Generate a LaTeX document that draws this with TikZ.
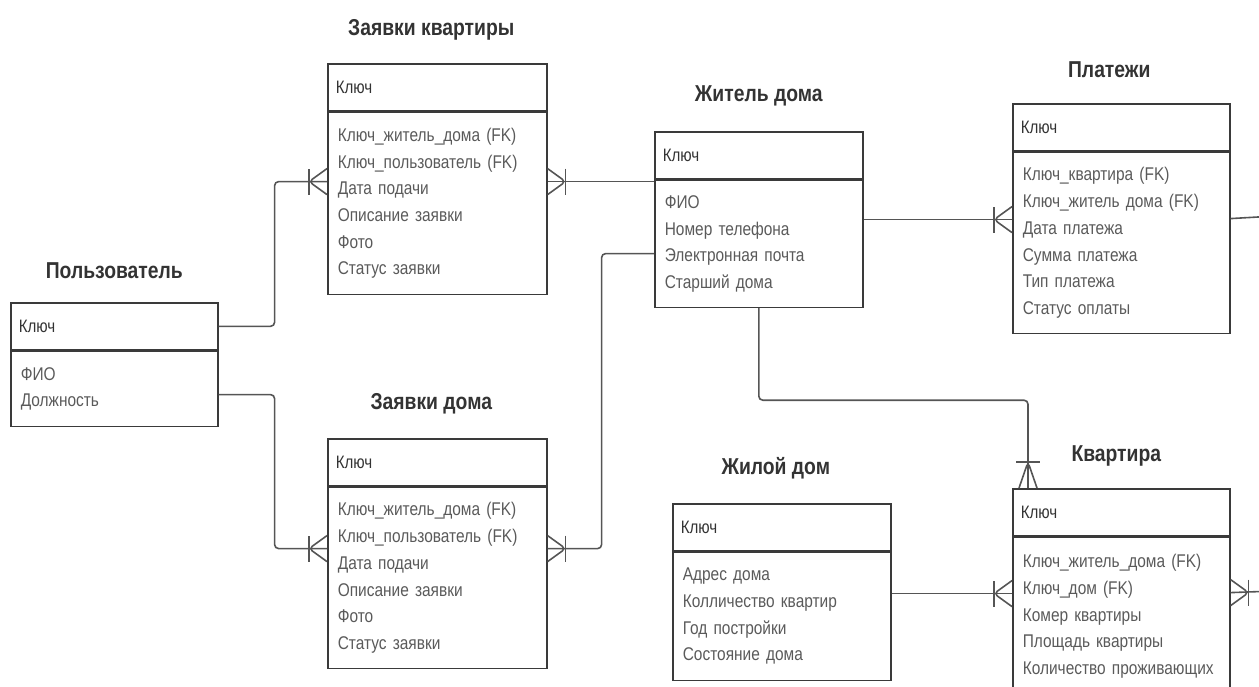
\documentclass[tikz,border=0pt]{standalone}
\usepackage{fontspec}
\setmainfont{Liberation Sans}[FakeStretch=0.84]
\usetikzlibrary{positioning}

\definecolor{boxcol}{HTML}{3A3A3A}
\definecolor{linkcol}{HTML}{555555}
\definecolor{titlecol}{HTML}{333333}
\definecolor{rowcol}{HTML}{5A5A5A}

\begin{document}
\begin{tikzpicture}[x=1pt, y=-1pt,
  title/.style={font=\fontsize{23}{26}\selectfont\bfseries, text=titlecol},
  head/.style={draw=boxcol, line width=1.6pt, anchor=north west, minimum height=47pt,
    inner xsep=8pt, align=left, font=\fontsize{18}{21}\selectfont, text=titlecol},
  body/.style={draw=boxcol, line width=1.6pt, anchor=north west,
    inner xsep=10pt, align=left, font=\fontsize{18.4}{26.7}\selectfont, text=rowcol},
  link/.style={draw=linkcol, line width=1.6pt, rounded corners=4pt},
  many/.pic={\draw [link] (0,-13) -- (18,0) -- (0,13); \draw [link] (18,-13) -- (18,13);},
  manyup/.pic={\draw [link] (0,-9) -- (26,0) -- (0,9); \draw [link] (26,-12) -- (26,12);}]

\useasboundingbox (0,0) rectangle (1259,687);
\clip (0,0) rectangle (1259,687);

\node [head, text width=191pt] (user) at (10,302) {Ключ};
\node [body, text width=187pt, minimum height=75pt] (user-b) at (user.south west) {ФИО\\Должность};
\node [title, above=20pt of user] {Пользователь};

\node [head, text width=203pt] (zk) at (327,63) {Ключ};
\node [body, text width=199pt, minimum height=182pt] (zk-b) at (zk.south west)
  {Ключ\_житель\_дома (FK)\\Ключ\_пользователь (FK)\\Дата подачи\\Описание заявки\\Фото\\Статус заявки};
\node [title, above=19pt of zk, xshift=-6pt] {Заявки квартиры};

\node [head, text width=203pt] (zd) at (327,438) {Ключ};
\node [body, text width=199pt, minimum height=181pt] (zd-b) at (zd.south west)
  {Ключ\_житель\_дома (FK)\\Ключ\_пользователь (FK)\\Дата подачи\\Описание заявки\\Фото\\Статус заявки};
\node [title, above=20pt of zd, xshift=-6pt] {Заявки дома};

\node [head, text width=192pt] (zh) at (654,131) {Ключ};
\node [body, text width=188pt, minimum height=127pt] (zh-b) at (zh.south west)
  {ФИО\\Номер телефона\\Электронная почта\\Старший дома};
\node [title, above=21pt of zh] {Житель дома};

\node [head, text width=201pt] (pl) at (1012,103) {Ключ};
\node [body, text width=197pt, minimum height=181pt] (pl-b) at (pl.south west)
  {Ключ\_квартира (FK)\\Ключ\_житель дома (FK)\\Дата платежа\\Сумма платежа\\Тип платежа\\Статус оплаты};
\node [title, above=22pt of pl, xshift=-12pt] {Платежи};

\node [head, text width=202pt] (zhd) at (672,503) {Ключ};
\node [body, text width=198pt, minimum height=128pt] (zhd-b) at (zhd.south west)
  {Адрес дома\\Колличество квартир\\Год постройки\\Состояние дома};
\node [title, above=20pt of zhd, xshift=-6pt] {Жилой дом};

\node [head, text width=201pt] (kv) at (1012,488) {Ключ};
\node [body, text width=197pt, minimum height=158pt] (kv-b) at (kv.south west)
  {Ключ\_житель\_дома (FK)\\Ключ\_дом (FK)\\Комер квартиры\\Площадь квартиры\\Количество проживающих};
\node [title, above=18pt of kv, xshift=-5pt] {Квартира};

\coordinate (user-o) at ([yshift=-44pt]user-b.north east);
\coordinate (zk-in) at ([yshift=-70pt]zk-b.north west);
\coordinate (zk-out) at ([yshift=-70pt]zk-b.north east);
\coordinate (zd-in) at ([yshift=-62pt]zd-b.north west);
\coordinate (zd-out) at ([yshift=-62pt]zd-b.north east);
\coordinate (zh-l) at ([yshift=-74pt]zh-b.north west);
\coordinate (zh-r) at ([yshift=-40pt]zh-b.north east);
\coordinate (pl-in) at (zh-r -| pl-b.west);
\coordinate (pl-r) at ([yshift=-67pt]pl-b.north east);
\coordinate (pl-end) at (1275,216);
\coordinate (kv-top) at ([xshift=16pt]kv.north west);
\coordinate (zhd-r) at ([yshift=-42pt]zhd-b.north east);
\coordinate (kv-in) at (zhd-r -| kv-b.west);
\coordinate (kv-out) at ([yshift=-56pt]kv-b.north east);
\coordinate (kv-end) at (1275,591);

\draw [link] (user.east) -- ++(56,0) |- (zk-in);
\draw [link] (user-o) -- ++(56,0) |- (zd-in);
\draw [link] (zk-out) -- (zk-out -| zh-b.west);
\draw [link] (zd-out) -- ++(54,0) |- (zh-l);
\draw [link] (zh-r) -- (pl-in);
\draw [link] (zh-b.south) -- ++(0,92) -| (kv-top);
\draw [link] (zhd-r) -- (kv-in);
\draw [link] (pl-r) -- (pl-end);
\draw [link] (kv-out) -- (kv-end);

\pic [rotate=180] at (zk-in) {many};
\pic at (zk-out) {many};
\pic [rotate=180] at (zd-in) {many};
\pic at (zd-out) {many};
\pic [rotate=180] at (pl-in) {many};
\pic [rotate=180] at (kv-in) {many};
\pic at (kv-out) {many};
\pic [rotate=90] at (kv-top) {manyup};
\end{tikzpicture}
\end{document}
